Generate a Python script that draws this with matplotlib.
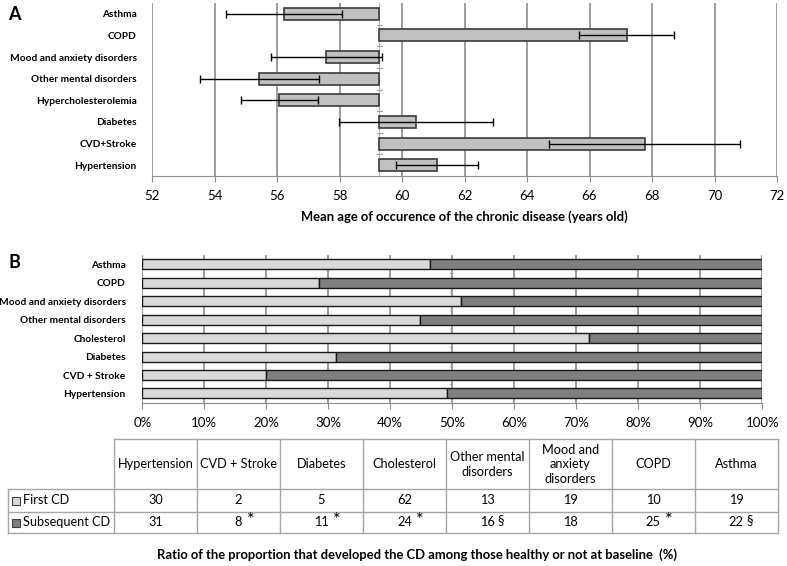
import matplotlib
matplotlib.use('Agg')
import matplotlib.pyplot as plt
from matplotlib.patches import Rectangle

plt.rcParams['font.family'] = ['Lato', 'DejaVu Sans']

# panel A: mean age at onset (bottom -> top)
a_labels = ['Hypertension', 'CVD+Stroke', 'Diabetes', 'Hypercholesterolemia',
            'Other mental disorders', 'Mood and anxiety disorders', 'COPD', 'Asthma']
a_mean = [61.11, 67.77, 60.44, 56.08, 55.44, 57.58, 67.19, 56.22]
a_err = [1.31, 3.06, 2.46, 1.23, 1.89, 1.78, 1.51, 1.86]
a_base = 59.27
a_ticks = [52, 54, 56, 58, 60, 62, 64, 66, 68, 70, 72]

# panel B / table (table order, left -> right; bars bottom -> top)
b_labels = ['Hypertension', 'CVD + Stroke', 'Diabetes', 'Cholesterol',
            'Other mental disorders', 'Mood and anxiety disorders', 'COPD', 'Asthma']
tab_headers = ['Hypertension', 'CVD + Stroke', 'Diabetes', 'Cholesterol',
               'Other mental\ndisorders', 'Mood and\nanxiety\ndisorders', 'COPD', 'Asthma']
first_cd = [30, 2, 5, 62, 13, 19, 10, 19]
subseq_cd = [31, 8, 11, 24, 16, 18, 25, 22]
marks = ['', '*', '*', '*', '\u00a7', '', '*', '\u00a7']
b_ticks = [0, 10, 20, 30, 40, 50, 60, 70, 80, 90, 100]

W, H = 787, 566
fig = plt.figure(figsize=(W / 100, H / 100), dpi=100)


def px_axes(x0, y0, x1, y1):
    return fig.add_axes([x0 / W, 1 - y1 / H, (x1 - x0) / W, (y1 - y0) / H])


grid_c = '#8c8c8c'
ypos = list(range(len(a_labels)))

# ---------------- panel A
ax = px_axes(152, 3, 777, 176)
ax.set_xlim(52, 72)
ax.set_ylim(-0.5, 7.5)
for t in a_ticks:
    ax.axvline(t, color=grid_c, lw=1.2, zorder=0)
ax.barh(ypos, [m - a_base for m in a_mean], left=a_base, height=0.55,
        color='#c0c0c0', edgecolor='#3a3a3a', lw=1.2, zorder=2)
ax.errorbar(a_mean, ypos, xerr=a_err, fmt='none', ecolor='black',
            elinewidth=1, capsize=3, capthick=1, zorder=3)
ax.axvline(a_base, color='#b0b0b0', lw=0.8, zorder=1)
for b in [y + 0.5 for y in ypos[:-1]]:
    ax.plot([a_base - 0.08, a_base + 0.08], [b, b], color='#a0a0a0', lw=0.8, zorder=1)
ax.set_xticks(a_ticks)
ax.set_yticks(ypos)
ax.set_yticklabels(a_labels, fontsize=7.3, fontweight='bold')
ax.tick_params(axis='y', length=0, pad=11)
ax.tick_params(axis='x', length=4, color=grid_c, labelsize=9.5, pad=6)
for s in ['top', 'right', 'left']:
    ax.spines[s].set_visible(False)
ax.spines['bottom'].set_color(grid_c)
ax.set_xlabel('Mean age of occurence of the chronic disease (years old)',
              fontsize=9.4, fontweight='bold', labelpad=6)

# ---------------- panel B
bx = px_axes(142.3, 255, 762.3, 402.7)
bx.set_xlim(0, 100)
bx.set_ylim(-0.5, 7.5)
shares = [100 * f / (f + s) for f, s in zip(first_cd, subseq_cd)]
for t in b_ticks:
    bx.axvline(t, color=grid_c, lw=1.2, zorder=0)
bx.barh(ypos, shares, height=0.54, color='#d9d9d9', edgecolor='#1a1a1a', lw=1, zorder=2)
bx.barh(ypos, [100 - v for v in shares], left=shares, height=0.54,
        color='#7f7f7f', edgecolor='#1a1a1a', lw=1, zorder=2)
for b in [y + 0.5 for y in ypos[:-1]]:
    bx.plot([49.6, 50], [b, b], color='#a0a0a0', lw=0.8, zorder=1)
bx.set_xticks(b_ticks)
bx.set_xticklabels([f'{t}%' for t in b_ticks])
bx.set_yticks(ypos)
bx.set_yticklabels(b_labels, fontsize=7.3, fontweight='bold')
bx.tick_params(axis='y', length=0, pad=12)
bx.tick_params(axis='x', length=4, color=grid_c, labelsize=9.5, pad=6)
for s in ['top', 'right', 'left']:
    bx.spines[s].set_visible(False)
bx.spines['bottom'].set_color(grid_c)

# ---------------- overlay: panel letters, table, axis title
ov = fig.add_axes([0, 0, 1, 1])
ov.set_xlim(0, W)
ov.set_ylim(H, 0)
ov.axis('off')
ov.text(8, 14, 'A', fontsize=13, fontweight='bold', va='center', ha='left')
ov.text(8, 263, 'B', fontsize=13, fontweight='bold', va='center', ha='left')

lc = '#a6a6a6'
x0, xl = 8, 114
cw = (777.7 - xl) / len(tab_headers)
y_head, y_r1, y_r2, y_end = 439.3, 489.3, 511.7, 533.3
xr = xl + cw * len(tab_headers)
# outer and inner lines
ov.plot([xl, xr], [y_head, y_head], color=lc, lw=1)
ov.plot([x0, xr], [y_r1, y_r1], color=lc, lw=1)
ov.plot([x0, xr], [y_r2, y_r2], color=lc, lw=1)
ov.plot([x0, xr], [y_end, y_end], color=lc, lw=1)
ov.plot([x0, x0], [y_r1, y_end], color=lc, lw=1)
for i in range(len(tab_headers) + 1):
    ov.plot([xl + i * cw] * 2, [y_head, y_end], color=lc, lw=1)

for i, h in enumerate(tab_headers):
    cx = xl + (i + 0.5) * cw
    ov.text(cx, (y_head + y_r1) / 2, h, ha='center', va='center', fontsize=9.2,
            linespacing=1.25)
    ov.text(cx, (y_r1 + y_r2) / 2, str(first_cd[i]), ha='center', va='center', fontsize=9.2)
    ov.text(cx, (y_r2 + y_end) / 2, str(subseq_cd[i]), ha='center', va='center', fontsize=9.2)
    if marks[i]:
        nd = len(str(subseq_cd[i]))
        star = marks[i] == '*'
        ov.text(cx + 3.5 * nd + (5 if star else 3), (y_r2 + y_end) / 2 - (2 if star else 2.5),
                marks[i], ha='left', va='center', fontsize=13 if star else 9.5)

for (yy0, yy1), col, lab in [((y_r1, y_r2), '#d9d9d9', 'First CD'),
                               ((y_r2, y_end), '#7f7f7f', 'Subsequent CD')]:
    cy = (yy0 + yy1) / 2
    ov.add_patch(Rectangle((12, cy - 4), 8, 8, facecolor=col, edgecolor='#404040', lw=0.8))
    ov.text(23, cy, lab, ha='left', va='center', fontsize=9.2)

ov.text(417, 555, 'Ratio of the proportion that developed the CD among those healthy or not at baseline  (%)',
        ha='center', va='center', fontsize=9.4, fontweight='bold')

fig.savefig('out.png', dpi=100)
